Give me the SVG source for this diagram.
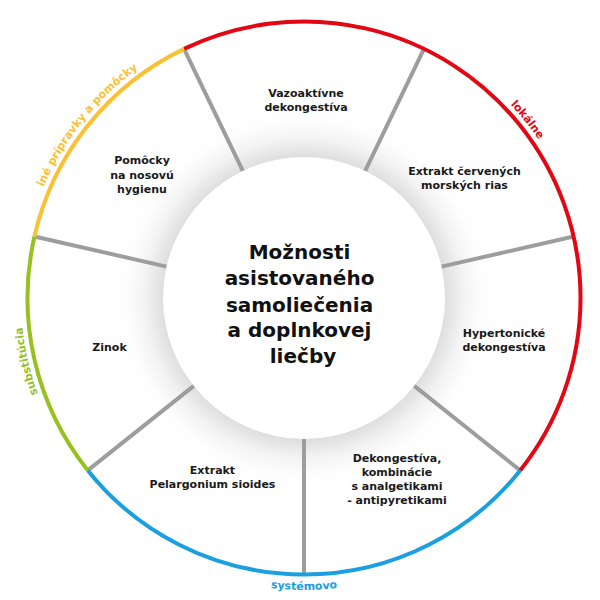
<svg xmlns="http://www.w3.org/2000/svg" width="600" height="600" viewBox="0 0 600 600">
  <style>
    .lbl { font-family: "DejaVu Sans", "Liberation Sans", sans-serif; font-weight: bold; font-size: 11px; fill: #1a1a1a; text-anchor: middle; }
    .title { font-family: "DejaVu Sans", "Liberation Sans", sans-serif; font-weight: bold; font-size: 20px; fill: #111; text-anchor: middle; }
    .arc-lbl { font-family: "DejaVu Sans", "Liberation Sans", sans-serif; font-weight: bold; font-size: 11px; text-anchor: middle; }
    .spoke { stroke: #9d9d9d; stroke-width: 4; fill: none; }
    .ring { stroke-width: 4; fill: none; }
  </style>
  <defs>
    <radialGradient id="shadow" cx="304" cy="298" r="190" gradientUnits="userSpaceOnUse">
      <stop offset="0.72" stop-color="#dadada"/>
      <stop offset="0.76" stop-color="#e2e2e2"/>
      <stop offset="0.84" stop-color="#f3f3f3"/>
      <stop offset="0.93" stop-color="#fdfdfd"/>
      <stop offset="1" stop-color="#ffffff"/>
    </radialGradient>
    <path id="p-lokalne" d="M360.09,20.60 A283,283 0 0 1 586.91,305.06"/>
    <path id="p-ine" d="M21.09,305.06 A283,283 0 0 1 247.91,20.60"/>
    <path id="p-subst" d="M133.15,523.61 A283,283 0 0 1 52.16,168.92"/>
    <path id="p-syst" d="M116.30,521.68 A292,292 0 0 0 491.70,521.68"/>
  </defs>
  <rect width="600" height="600" fill="#ffffff"/>

  <!-- shadow around inner circle -->
  <circle cx="304" cy="298" r="190" fill="url(#shadow)"/>

  <g id="connectors">
    <line class="spoke" x1="365.18" y1="170.96" x2="423.97" y2="48.87"/>
    <line class="spoke" x1="441.46" y1="266.63" x2="573.56" y2="236.48"/>
    <line class="spoke" x1="414.23" y1="385.91" x2="520.17" y2="470.40"/>
    <line class="spoke" x1="304" y1="439" x2="304" y2="574.5"/>
    <line class="spoke" x1="193.77" y1="385.91" x2="87.83" y2="470.40"/>
    <line class="spoke" x1="166.54" y1="266.63" x2="34.44" y2="236.48"/>
    <line class="spoke" x1="242.82" y1="170.96" x2="184.03" y2="48.87"/>
  </g>

  <g id="ring">
    <path class="ring" stroke="#e30613" d="M184.03,48.87 A276.5,276.5 0 0 1 520.17,470.40"/>
    <path class="ring" stroke="#1aa0e0" d="M520.17,470.40 A276.5,276.5 0 0 1 87.83,470.40"/>
    <path class="ring" stroke="#97c11f" d="M87.83,470.40 A276.5,276.5 0 0 1 34.44,236.48"/>
    <path class="ring" stroke="#fbc034" d="M34.44,236.48 A276.5,276.5 0 0 1 184.03,48.87"/>
  </g>

  <g id="arc-labels">
    <text class="arc-lbl" fill="#e30613"><textPath href="#p-lokalne" startOffset="50%">lokálne</textPath></text>
    <text class="arc-lbl" fill="#fbc034"><textPath href="#p-ine" startOffset="50%">iné prípravky a pomôcky</textPath></text>
    <text class="arc-lbl" fill="#97c11f"><textPath href="#p-subst" startOffset="50%">substitúcia</textPath></text>
    <text class="arc-lbl" fill="#1aa0e0"><textPath href="#p-syst" startOffset="50%">systémovo</textPath></text>
  </g>

  <g id="center">
    <circle cx="304" cy="298" r="141" fill="#ffffff"/>
    <text class="title">
      <tspan x="303" y="259">Možnosti</tspan>
      <tspan x="303" y="285">asistovaného</tspan>
      <tspan x="303" y="311.5">samoliečenia</tspan>
      <tspan x="303" y="337">a doplnkovej</tspan>
      <tspan x="303" y="363">liečby</tspan>
    </text>
  </g>

  <g id="n-vazo">
    <text class="lbl"><tspan x="306" y="96.5">Vazoaktívne</tspan><tspan x="306" y="110.5">dekongestíva</tspan></text>
  </g>
  <g id="n-extrakt-rias">
    <text class="lbl"><tspan x="464.5" y="175">Extrakt červených</tspan><tspan x="464.5" y="188.5">morských rias</tspan></text>
  </g>
  <g id="n-hypertonicke">
    <text class="lbl"><tspan x="504" y="337">Hypertonické</tspan><tspan x="504" y="350.5">dekongestíva</tspan></text>
  </g>
  <g id="n-dekongestiva">
    <text class="lbl"><tspan x="397" y="462">Dekongestíva,</tspan><tspan x="397" y="476">kombinácie</tspan><tspan x="397" y="490">s analgetikami</tspan><tspan x="397" y="504">- antipyretikami</tspan></text>
  </g>
  <g id="n-pelargonium">
    <text class="lbl"><tspan x="212.5" y="473.5">Extrakt</tspan><tspan x="212.5" y="488">Pelargonium sioides</tspan></text>
  </g>
  <g id="n-zinok">
    <text class="lbl"><tspan x="109.5" y="351">Zinok</tspan></text>
  </g>
  <g id="n-pomocky">
    <text class="lbl"><tspan x="142" y="164">Pomôcky</tspan><tspan x="142" y="178.5">na nosovú</tspan><tspan x="142" y="193">hygienu</tspan></text>
  </g>
</svg>
